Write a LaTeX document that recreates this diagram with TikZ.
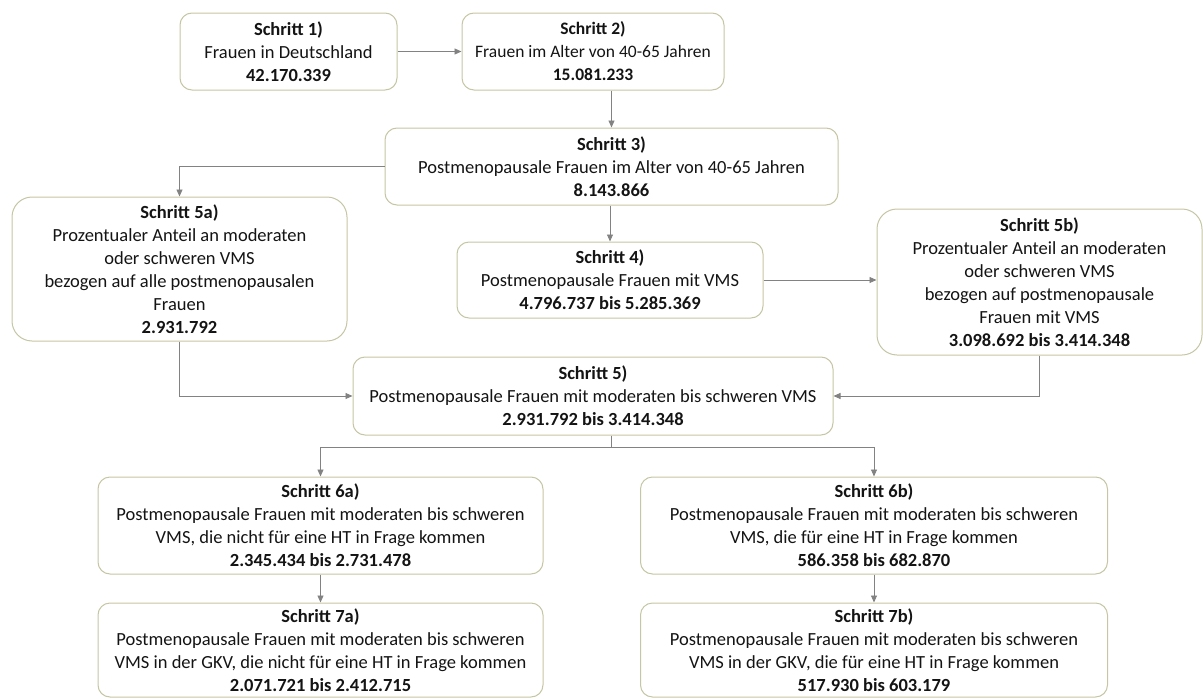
\documentclass[tikz,border=0pt]{standalone}
\usepackage{fontspec}
\setmainfont{Carlito}
\usetikzlibrary{arrows.meta,calc}
\definecolor{boxline}{RGB}{198,198,164}
\definecolor{conncol}{RGB}{130,130,130}
\definecolor{txt}{RGB}{20,20,20}
\tikzset{
  stepbox/.style={draw=boxline, line width=1pt, rounded corners=12pt, fill=white,
    align=center, inner sep=0pt, text=txt,
    font=\fontsize{18.5}{23}\selectfont, anchor=center},
  bigbox/.style={stepbox, rounded corners=20pt},
  conn/.style={draw=conncol, line width=0.9pt, -{Triangle[length=7pt,width=6pt]}},
  plain/.style={draw=conncol, line width=0.9pt}
}
\begin{document}
\begin{tikzpicture}[x=1pt,y=-1pt]
\useasboundingbox (0,0) rectangle (1203,699);
\node[stepbox, minimum width=217pt, minimum height=77pt] (b1) at (288.5,51.5)
  {\textbf{Schritt 1)}\\Frauen in Deutschland\\\textbf{42.170.339}};
\node[stepbox, minimum width=262pt, minimum height=77pt, font=\fontsize{17.5}{23}\selectfont] (b2) at (593,51.5)
  {\textbf{Schritt 2)}\\Frauen im Alter von 40-65 Jahren\\\textbf{15.081.233}};
\node[stepbox, minimum width=453pt, minimum height=77pt] (b3) at (611.5,166.5)
  {\textbf{Schritt 3)}\\Postmenopausale Frauen im Alter von 40-65 Jahren\\\textbf{8.143.866}};
\node[bigbox, minimum width=335pt, minimum height=144pt] (b5a) at (179.5,269)
  {\textbf{Schritt 5a)}\\Prozentualer Anteil an moderaten\\oder schweren VMS\\bezogen auf alle postmenopausalen\\Frauen\\\textbf{2.931.792}};
\node[stepbox, minimum width=306pt, minimum height=76pt] (b4) at (610,280)
  {\textbf{Schritt 4)}\\Postmenopausale Frauen mit VMS\\\textbf{4.796.737 bis 5.285.369}};
\node[bigbox, minimum width=325pt, minimum height=146pt] (b5b) at (1039.5,282)
  {\textbf{Schritt 5b)}\\Prozentualer Anteil an moderaten\\oder schweren VMS\\bezogen auf postmenopausale\\Frauen mit VMS\\\textbf{3.098.692 bis 3.414.348}};
\node[stepbox, minimum width=480pt, minimum height=78pt] (b5) at (593,396)
  {\textbf{Schritt 5)}\\Postmenopausale Frauen mit moderaten bis schweren VMS\\\textbf{2.931.792 bis 3.414.348}};
\node[stepbox, minimum width=445pt, minimum height=97pt] (b6a) at (320.5,525.5)
  {\textbf{Schritt 6a)}\\Postmenopausale Frauen mit moderaten bis schweren\\VMS, die nicht für eine HT in Frage kommen\\\textbf{2.345.434 bis 2.731.478}};
\node[stepbox, minimum width=467pt, minimum height=97pt] (b6b) at (874,525.5)
  {\textbf{Schritt 6b)}\\Postmenopausale Frauen mit moderaten bis schweren\\VMS, die für eine HT in Frage kommen\\\textbf{586.358 bis 682.870}};
\node[stepbox, minimum width=445pt, minimum height=94pt] (b7a) at (320.5,650)
  {\textbf{Schritt 7a)}\\Postmenopausale Frauen mit moderaten bis schweren\\VMS in der GKV, die nicht für eine HT in Frage kommen\\\textbf{2.071.721 bis 2.412.715}};
\node[stepbox, minimum width=467pt, minimum height=94pt] (b7b) at (874,650)
  {\textbf{Schritt 7b)}\\Postmenopausale Frauen mit moderaten bis schweren\\VMS in der GKV, die für eine HT in Frage kommen\\\textbf{517.930 bis 603.179}};
\coordinate (split) at (611,447);
\draw[conn] (b1.east) -- (b2.west);
\draw[conn] (b2.south -| b3.north) -- (b3.north);
\draw[conn] (b3.west) -| (b5a.north);
\draw[conn] (b3.south -| b4.north) -- (b4.north);
\draw[conn] (b4.east) -- (b4.east -| b5b.west);
\draw[conn] (b5a.south) |- (b5.west);
\draw[conn] (b5b.south) |- (b5.east);
\draw[plain] (b5.south -| split) -- (split);
\draw[conn] (split) -| (b6a.north);
\draw[conn] (split) -| (b6b.north);
\draw[conn] (b6a.south) -- (b7a.north);
\draw[conn] (b6b.south) -- (b7b.north);
\end{tikzpicture}
\end{document}
